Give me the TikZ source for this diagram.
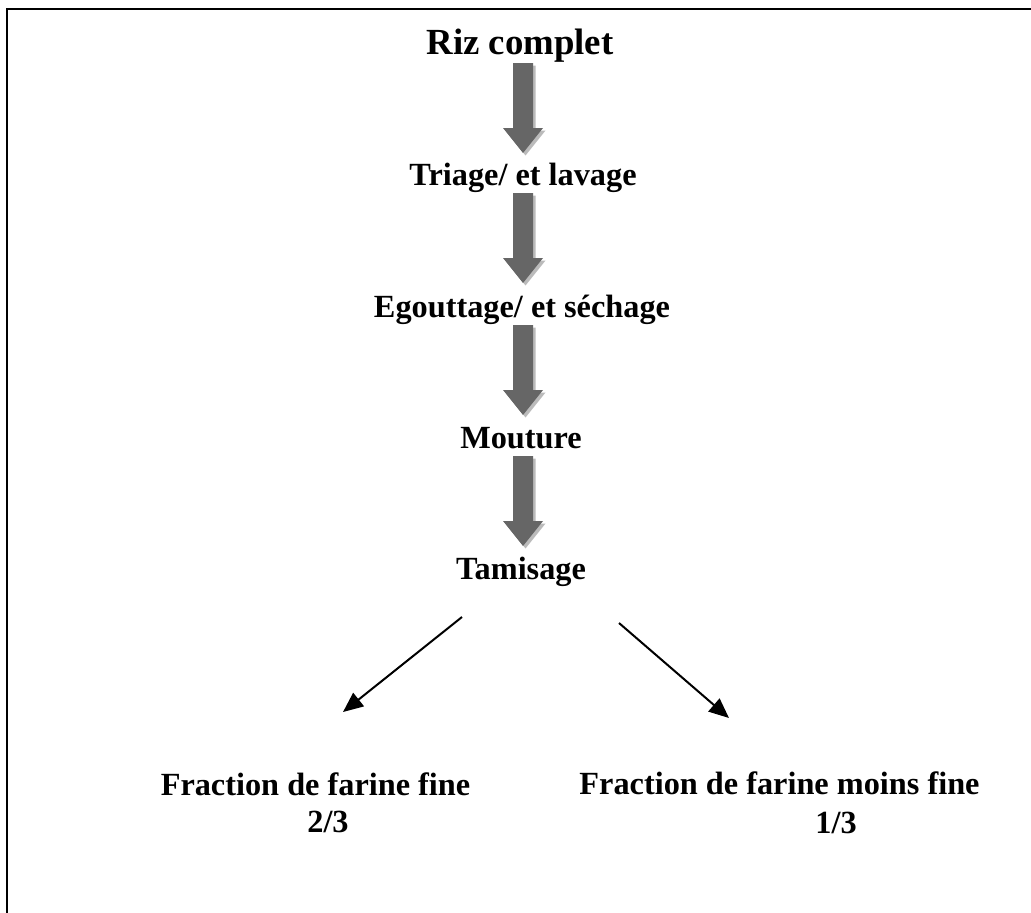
\documentclass[tikz,border=0pt]{standalone}
\usepackage{fontspec}
\setmainfont{Liberation Serif}
\usetikzlibrary{arrows.meta,calc}
\definecolor{arrowgray}{HTML}{666666}
\definecolor{shadowgray}{HTML}{BBBBBB}
\tikzset{
  lbl/.style={anchor=base,inner sep=0pt,font=\bfseries\fontsize{32.3}{36}\selectfont},
  title/.style={anchor=base,inner sep=0pt,font=\bfseries\fontsize{36.8}{40}\selectfont},
  thinarrow/.style={line width=2pt,-{Triangle[length=20pt,width=17pt]}},
  blockarrow/.pic={
    \fill[shadowgray] (-7.5,2.5) -- (12.5,2.5) -- (12.5,67.5) -- (22.5,67.5) -- (2.5,92.5) -- (-17.5,67.5) -- (-7.5,67.5) -- cycle;
    \fill[arrowgray] (-10,0) -- (10,0) -- (10,65) -- (20,65) -- (0,90) -- (-20,65) -- (-10,65) -- cycle;
  }
}
\begin{document}
\begin{tikzpicture}[x=1pt,y=-1pt]
\useasboundingbox (0,0) rectangle (1031,913);
\fill[white] (0,0) rectangle (1031,913);
% frame
\draw[line width=2pt] (7,913) -- (7,9) -- (1031,9);
% texts
\node[title] (riz) at (520,54) {Riz complet};
\node[lbl] (tri) at (523,185) {Triage/ et lavage};
\node[lbl] (ego) at (522,317) {Egouttage/ et séchage};
\node[lbl] (mou) at (521,448) {Mouture};
\node[lbl] (tam) at (521,579) {Tamisage};
\node[lbl] (ff) at (315.5,795) {Fraction de farine fine};
\node[lbl] (ffv) at (328,832) {2/3};
\node[lbl] (fm) at (779.5,794) {Fraction de farine moins fine};
\node[lbl] (fmv) at (836,833) {1/3};
% block arrows
\path (riz.base) ++(3,9) pic {blockarrow};
\path (tri.base) ++(0,8) pic {blockarrow};
\path (ego.base) ++(1,8) pic {blockarrow};
\path (mou.base) ++(2,8) pic {blockarrow};
% split arrows
\coordinate (ls) at (462,617);
\coordinate (le) at (343,712);
\coordinate (rs) at (619,623);
\coordinate (re) at (729,718);
\draw[thinarrow] (ls) -- (le);
\draw[thinarrow] (rs) -- (re);
\end{tikzpicture}
\end{document}
